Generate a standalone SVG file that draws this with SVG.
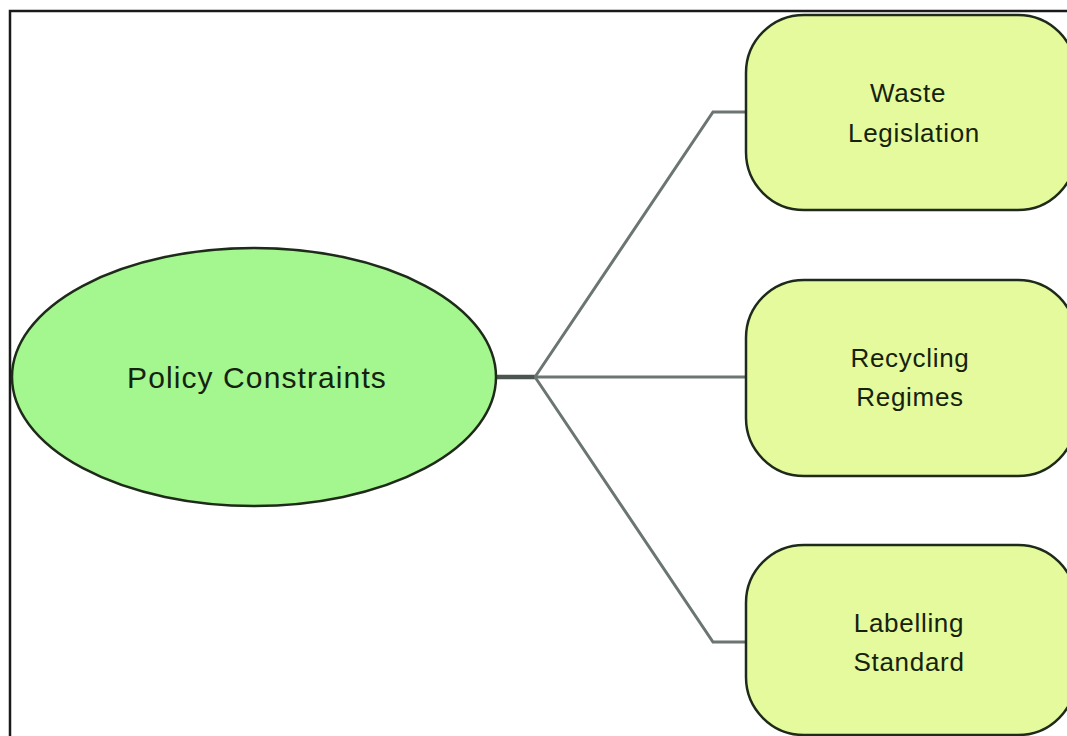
<svg xmlns="http://www.w3.org/2000/svg" width="1067" height="736" viewBox="0 0 1067 736">
  <style>
    .frame { fill: #ffffff; stroke: #1a1a1a; stroke-width: 2.5; }
    .root { fill: #a3f78e; stroke: #1f2b1a; stroke-width: 2.5; }
    .leaf { fill: #e5fa9c; stroke: #1f2b1a; stroke-width: 2.5; }
    .label { font-family: "Liberation Sans", Arial, sans-serif; fill: #15220f; text-anchor: middle; }
    .big { font-size: 30px; letter-spacing: 1.1px; }
    .small { font-size: 26px; letter-spacing: 0.7px; }
    .trunk { fill: none; stroke: #4b5550; stroke-width: 4.5; }
    .branch { fill: none; stroke: #6b7572; stroke-width: 3; stroke-linejoin: miter; }
  </style>

  <rect width="1067" height="736" fill="#ffffff"/>
  <rect class="frame" x="10" y="11" width="1080" height="760"/>

  <!-- connectors from the root to each child -->
  <g id="connectors">
    <line class="trunk" x1="496" y1="377" x2="535" y2="377"/>
    <polyline class="branch" points="535,377 713,112 748,112"/>
    <line class="branch" x1="535" y1="377" x2="748" y2="377"/>
    <polyline class="branch" points="535,377 713,642 748,642"/>
  </g>

  <g id="policy-constraints">
    <ellipse class="root" cx="254" cy="377" rx="242" ry="129"/>
    <text class="label big" x="257" y="388">Policy Constraints</text>
  </g>

  <g id="waste-legislation">
    <rect class="leaf" x="746" y="15" width="330" height="195" rx="58" ry="58"/>
    <text class="label small" x="908" y="102">Waste</text>
    <text class="label small" x="914" y="142">Legislation</text>
  </g>

  <g id="recycling-regimes">
    <rect class="leaf" x="746" y="280" width="330" height="196" rx="58" ry="58"/>
    <text class="label small" x="910" y="367">Recycling</text>
    <text class="label small" x="910" y="406">Regimes</text>
  </g>

  <g id="labelling-standard">
    <rect class="leaf" x="746" y="545" width="330" height="190" rx="58" ry="58"/>
    <text class="label small" x="909" y="632">Labelling</text>
    <text class="label small" x="909" y="671">Standard</text>
  </g>
</svg>
